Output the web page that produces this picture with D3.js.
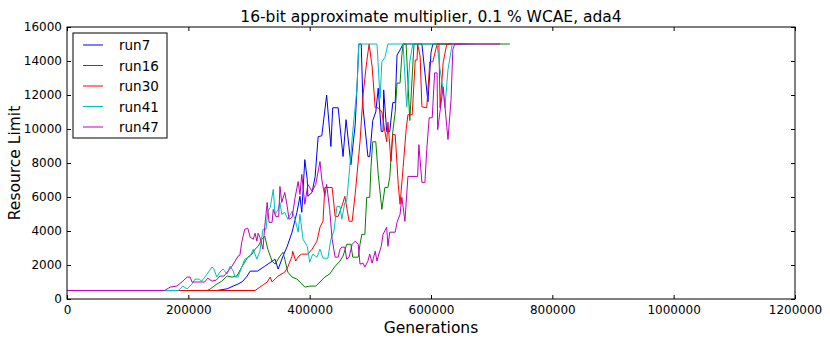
<!DOCTYPE html>
<html>
<head>
<meta charset="utf-8">
<script src="https://cdn.jsdelivr.net/npm/d3@7"></script>
<style>
  body { margin: 0; background: #fff; }
  text { font-family: "DejaVu Sans", sans-serif; }
</style>
</head>
<body>
<div id="chart"></div>
<script>
const runNames = ['run7', 'run16', 'run30', 'run41', 'run47'];
const runColors = ['#0000ff', '#008000', '#ff0000', '#00bfbf', '#bf00bf'];

const xTicks = [0, 200000, 400000, 600000, 800000, 1000000, 1200000];
const yTicks = [0, 2000, 4000, 6000, 8000, 10000, 12000, 14000, 16000];

// [generation, resource limit]
const run7 = [[0,500],[247000,500],[264000,600],[274000,760],[282000,880],[290000,1050],[297000,1350],[302000,1640],[314000,1640],[326000,1930],[343000,2340],[348000,1760],[356000,2520],[363000,3100],[371000,3930],[379000,5100],[384000,6040],[387000,5100],[392000,8200],[396000,7030],[397000,6040],[404000,6270],[409000,7200],[414000,9550],[420000,9600],[428000,12000],[435000,8970],[438000,11250],[447000,11250],[455000,8380],[460000,10550],[468000,7900],[475000,10250],[478000,12400],[481000,15000],[485000,15000],[488000,11250],[496000,8380],[499000,8380],[504000,10500],[509000,11000],[513000,12400],[518000,9850],[521000,9850],[522000,12300],[527000,9850],[532000,9850],[537000,11550],[541000,11550],[544000,14350],[549000,14650],[554000,15000],[585000,15000],[595000,11600],[600000,14500],[603000,15000],[650000,15000]];

const run16 = [[0,500],[231000,500],[236000,590],[247000,880],[255000,1050],[264000,1350],[272000,1290],[280000,1350],[288000,1880],[293000,2170],[298000,2460],[305000,2640],[310000,2930],[315000,3100],[321000,3500],[326000,3700],[331000,2930],[338000,2230],[343000,2050],[351000,2520],[356000,2750],[359000,2340],[364000,1580],[371000,1290],[379000,1170],[384000,1000],[392000,700],[400000,760],[410000,760],[417000,1000],[425000,1290],[433000,1470],[442000,1930],[450000,2230],[455000,2520],[461000,3220],[468000,3220],[471000,2460],[480000,2460],[483000,3220],[486000,3800],[491000,3800],[494000,5980],[499000,5980],[501000,7730],[504000,9250],[509000,9250],[513000,7330],[519000,5270],[524000,6560],[529000,6560],[532000,7150],[537000,9840],[541000,11000],[544000,12700],[549000,12700],[552000,14360],[554000,15000],[559000,15000],[565000,10500],[572000,15000],[730000,15000]];

const run30 = [[0,500],[310000,500],[318000,700],[323000,820],[330000,1000],[335000,1290],[338000,1000],[343000,1170],[348000,1350],[359000,1580],[364000,1880],[371000,2520],[372000,2810],[377000,2230],[382000,2520],[387000,2640],[397000,2640],[404000,2930],[412000,3400],[417000,4220],[422000,4570],[425000,6560],[437000,6560],[442000,4860],[447000,4860],[453000,5450],[458000,6040],[465000,4570],[470000,4570],[475000,6150],[483000,9250],[488000,12000],[494000,13950],[498000,15000],[503000,13650],[508000,11250],[513000,11250],[519000,11000],[524000,9850],[527000,9250],[529000,10400],[534000,8100],[537000,9670],[541000,9670],[546000,6740],[549000,5570],[554000,7730],[559000,9960],[562000,10840],[569000,10840],[574000,14060],[577000,14060],[578000,15000],[582000,14300],[585000,11300],[593000,11250],[598000,13950],[603000,13950],[610000,15000],[613000,15000],[615000,11250],[620000,13900],[626000,15000],[660000,15000]];

const run41 = [[0,500],[183000,500],[186000,590],[191000,760],[198000,590],[206000,880],[211000,1170],[218000,1170],[222000,1050],[231000,1470],[239000,1880],[242000,1760],[247000,1290],[252000,1580],[257000,1760],[264000,1470],[269000,1930],[274000,1640],[277000,1290],[282000,1290],[285000,1580],[293000,2340],[302000,2520],[307000,2930],[313000,2340],[318000,2810],[323000,4100],[328000,4100],[331000,5160],[335000,5390],[340000,6450],[343000,4980],[348000,5270],[351000,5680],[354000,4980],[359000,5100],[364000,4690],[371000,5160],[376000,4690],[381000,3930],[384000,4980],[389000,3520],[396000,3100],[400000,2170],[405000,2640],[412000,2460],[417000,2930],[422000,2400],[430000,2400],[435000,3520],[440000,4000],[445000,5450],[450000,5450],[453000,4690],[458000,5680],[461000,5740],[466000,7730],[471000,9840],[478000,12400],[481000,15000],[511000,15000],[516000,11800],[519000,13950],[524000,14200],[529000,15000],[554000,15000],[560000,11300],[565000,13950],[570000,15000],[610000,15000],[615000,13500],[620000,12300],[623000,11250],[628000,13500],[635000,15000],[670000,15000]];

const run47 = [[0,500],[161000,500],[170000,700],[181000,760],[191000,1050],[198000,1290],[203000,1290],[206000,1000],[227000,1000],[232000,1230],[239000,1050],[246000,1110],[252000,1350],[259000,1350],[264000,1580],[272000,1930],[282000,2520],[285000,2580],[288000,3340],[293000,4100],[298000,4160],[302000,3630],[307000,3520],[310000,3870],[313000,3400],[315000,3870],[318000,3630],[323000,2930],[326000,4280],[330000,5680],[333000,4510],[338000,4510],[340000,5270],[344000,4860],[349000,4860],[351000,6620],[354000,5680],[359000,6270],[363000,5450],[366000,4690],[371000,4800],[376000,5970],[381000,6910],[384000,6150],[387000,7330],[392000,5570],[397000,6740],[404000,6330],[410000,6740],[417000,8090],[420000,7030],[425000,6040],[428000,6740],[433000,5270],[437000,3520],[442000,2460],[447000,2460],[450000,2930],[453000,3050],[458000,3050],[461000,2340],[465000,2460],[470000,3220],[475000,3400],[480000,3220],[483000,2050],[488000,2110],[491000,1880],[496000,2230],[499000,2640],[503000,2110],[508000,2810],[511000,2230],[513000,2520],[518000,3100],[521000,3810],[527000,4220],[529000,3100],[532000,3930],[541000,3930],[544000,4510],[549000,4980],[552000,5980],[557000,4570],[562000,7210],[578000,7210],[580000,9080],[585000,6860],[590000,6860],[593000,8790],[597000,10660],[602000,10660],[606000,13300],[610000,13300],[611000,9960],[620000,12480],[628000,9380],[633000,11720],[636000,14650],[639000,15000],[714000,15000]];

const runs = [run7, run16, run30, run41, run47];

const W = 830, H = 346;
const margin = {top: 27, right: 35, bottom: 47, left: 67};
const width = W - margin.left - margin.right;
const height = H - margin.top - margin.bottom;

const svg = d3.select('#chart').append('svg')
    .attr('width', W)
    .attr('height', H);

const g = svg.append('g')
    .attr('transform', `translate(${margin.left},${margin.top})`);

const x = d3.scaleLinear().domain([0, 1200000]).range([0, width]);
const y = d3.scaleLinear().domain([0, 16000]).range([height, 0]);

const line = d3.line()
    .x(d => x(d[0]))
    .y(d => y(d[1]));

g.append('defs').append('clipPath').attr('id', 'clip')
    .append('rect').attr('width', width).attr('height', height);

g.append('g').attr('clip-path', 'url(#clip)')
    .selectAll('path')
    .data(runs)
    .enter()
    .append('path')
    .attr('d', line)
    .attr('fill', 'none')
    .attr('stroke', (d, i) => runColors[i])
    .attr('stroke-width', 1);

// axes, ticks pointing inward on all four sides
const xAxis = g.append('g')
    .attr('transform', `translate(0,${height})`)
    .call(d3.axisBottom(x).tickValues(xTicks).tickFormat(d3.format('d'))
        .tickSizeInner(-4).tickSizeOuter(0).tickPadding(6));
const xAxisTop = g.append('g')
    .call(d3.axisTop(x).tickValues(xTicks).tickFormat('')
        .tickSizeInner(-4).tickSizeOuter(0));
const yAxis = g.append('g')
    .call(d3.axisLeft(y).tickValues(yTicks).tickFormat(d3.format('d'))
        .tickSizeInner(-4).tickSizeOuter(0).tickPadding(5));
const yAxisRight = g.append('g')
    .attr('transform', `translate(${width},0)`)
    .call(d3.axisRight(y).tickValues(yTicks).tickFormat('')
        .tickSizeInner(-4).tickSizeOuter(0));

[xAxis, xAxisTop, yAxis, yAxisRight].forEach(a => {
    a.select('.domain').remove();
    a.selectAll('line').attr('stroke', '#000');
    a.selectAll('text')
        .attr('fill', '#000')
        .style('font-family', '"DejaVu Sans", sans-serif')
        .style('font-size', '12px');
});

g.append('rect')
    .attr('width', width)
    .attr('height', height)
    .attr('fill', 'none')
    .attr('stroke', '#000')
    .attr('stroke-width', 1);

// title and axis labels
svg.append('text')
    .attr('x', margin.left + width / 2)
    .attr('y', 22)
    .attr('text-anchor', 'middle')
    .style('font-size', '15.5px')
    .text('16-bit approximate multiplier, 0.1 % WCAE, ada4');

svg.append('text')
    .attr('x', margin.left + width / 2)
    .attr('y', 333)
    .attr('text-anchor', 'middle')
    .style('font-size', '15.5px')
    .text('Generations');

svg.append('text')
    .attr('transform', `translate(20,${margin.top + height / 2}) rotate(-90)`)
    .attr('text-anchor', 'middle')
    .style('font-size', '15.5px')
    .text('Resource Limit');

// legend
const legend = svg.append('g').attr('transform', 'translate(73,33)');
legend.append('rect')
    .attr('width', 94)
    .attr('height', 105)
    .attr('fill', '#fff')
    .attr('stroke', '#000')
    .attr('stroke-width', 1);

const item = legend.selectAll('g.item')
    .data(runNames)
    .enter()
    .append('g')
    .attr('class', 'item')
    .attr('transform', (d, i) => `translate(0,${12 + i * 20.5})`);

item.append('line')
    .attr('x1', 10).attr('x2', 30)
    .attr('y1', 0).attr('y2', 0)
    .attr('stroke', (d, i) => runColors[i])
    .attr('stroke-width', 1);

item.append('text')
    .attr('x', 46)
    .attr('y', 5)
    .style('font-size', '13.5px')
    .text(d => d);
</script>
</body>
</html>
